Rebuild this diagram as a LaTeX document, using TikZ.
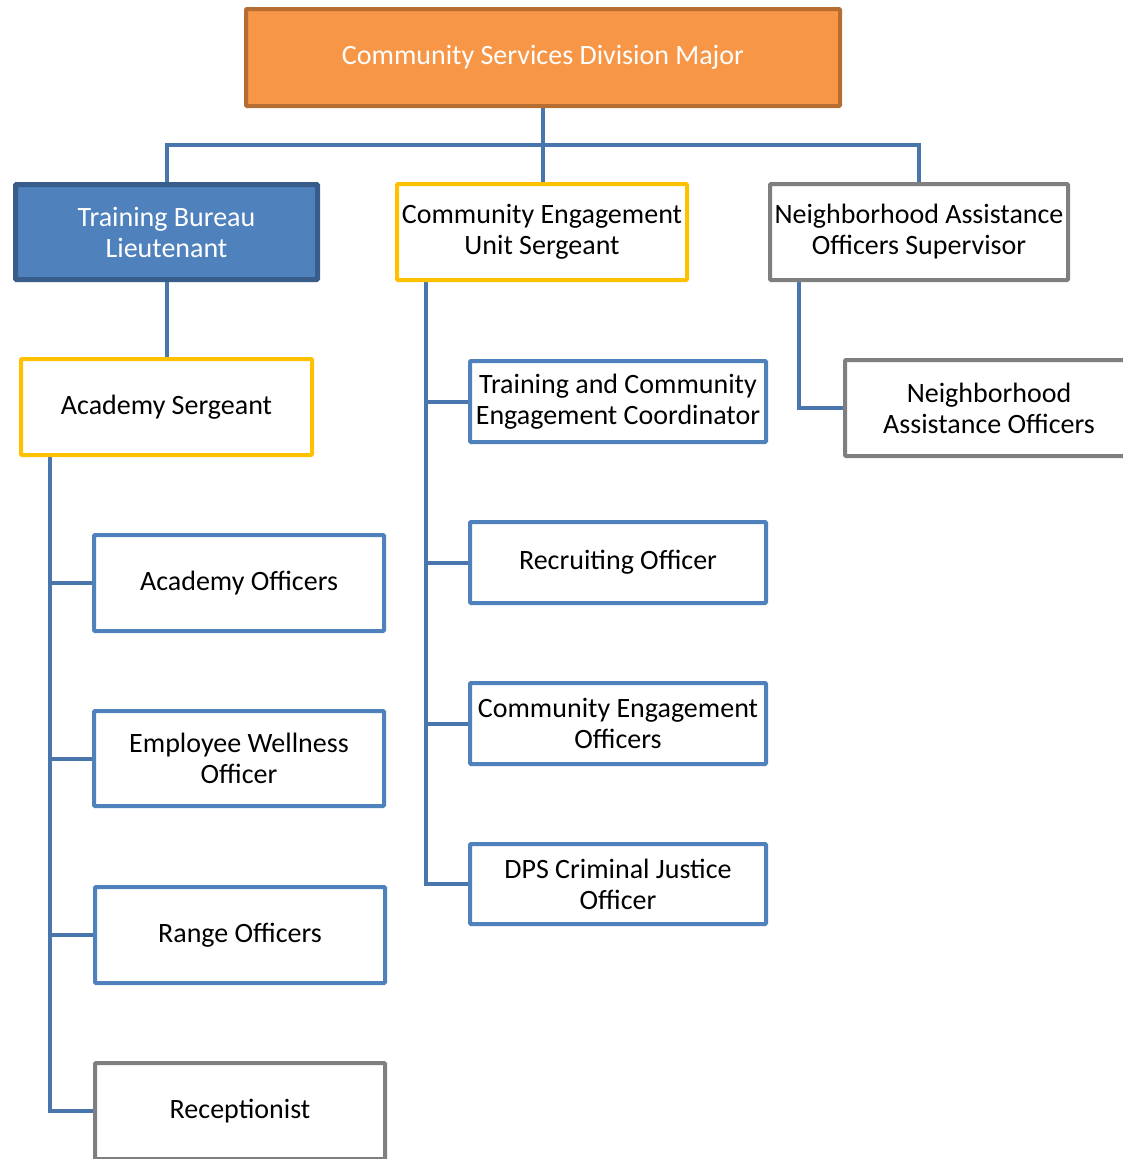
\documentclass[tikz,border=0pt]{standalone}
\usepackage{fontspec}
\setmainfont{Carlito}
\usetikzlibrary{backgrounds}
\definecolor{orangefill}{HTML}{F79646}
\definecolor{orangeline}{HTML}{B66D31}
\definecolor{bluefill}{HTML}{4F81BD}
\definecolor{blueline}{HTML}{385D8A}
\definecolor{boxblue}{HTML}{4F81BD}
\definecolor{gold}{HTML}{FFC000}
\definecolor{grayline}{HTML}{7F7F7F}
\definecolor{connblue}{HTML}{4A76AE}
\tikzset{
  box/.style={rectangle, align=center, inner sep=0pt, rounded corners=1pt, font=\fontsize{28}{31}\selectfont, fill=white},
  topbox/.style={box, draw=orangeline, fill=orangefill, text=white, line width=4pt, minimum width=594pt, minimum height=97pt},
  ltbox/.style={box, draw=blueline, fill=bluefill, text=white, line width=5pt, minimum width=302pt, minimum height=95pt},
  goldbox/.style={box, draw=gold, line width=4pt},
  graybox/.style={box, draw=grayline, line width=4pt},
  bluebox/.style={box, draw=boxblue, line width=4pt},
  conn/.style={draw=connblue, line width=4pt}
}
\begin{document}
\begin{tikzpicture}[x=1pt,y=-1pt]
\useasboundingbox (0,0) rectangle (1122,1159);
\node[topbox] (top) at (543,57.5) {Community Services Division Major};
\node[ltbox] (tbl) at (166.5,232) {Training Bureau\\Lieutenant};
\node[goldbox, minimum width=290pt, minimum height=96pt] (ceu) at (542,232) {Community Engagement\\Unit Sergeant};
\node[graybox, minimum width=298pt, minimum height=96pt] (naos) at (919,232) {Neighborhood Assistance\\Officers Supervisor};
\node[graybox, minimum width=288pt, minimum height=96pt] (nao) at (989,408) {Neighborhood\\Assistance Officers};
\node[goldbox, minimum width=291pt, minimum height=96pt] (as) at (166.5,407) {Academy Sergeant};
\node[bluebox, minimum width=290pt, minimum height=96pt] (ao) at (239,583) {Academy Officers};
\node[bluebox, minimum width=290pt, minimum height=95pt] (ewo) at (239,758.5) {Employee Wellness\\Officer};
\node[bluebox, minimum width=290pt, minimum height=96pt] (ro) at (240,935) {Range Officers};
\node[graybox, minimum width=290pt, minimum height=96pt] (rec) at (240,1111) {Receptionist};
\node[bluebox, minimum width=296pt, minimum height=81pt] (tcec) at (618,401.5) {Training and Community\\Engagement Coordinator};
\node[bluebox, minimum width=296pt, minimum height=81pt] (recr) at (618,562.5) {Recruiting Officer};
\node[bluebox, minimum width=296pt, minimum height=81pt] (ceo) at (618,723.5) {Community Engagement\\Officers};
\node[bluebox, minimum width=296pt, minimum height=80pt] (dps) at (618,884) {DPS Criminal Justice\\Officer};
\begin{pgfonlayer}{background}
\coordinate (bus) at (542.5,145);
\coordinate (asspine) at (50,457);
\coordinate (ceuspine) at (426,282);
\coordinate (naospine) at (799,282);
\draw[conn] (bus |- top.south) -- (bus);
\draw[conn] (tbl.north) |- (bus) -| (naos.north);
\draw[conn] (bus) -- (bus |- ceu.north);
\draw[conn] (tbl.south) -- (as.north);
\draw[conn] (asspine) |- (rec.west);
\draw[conn] (ao.west) -- (ao.west -| asspine);
\draw[conn] (ewo.west) -- (ewo.west -| asspine);
\draw[conn] (ro.west) -- (ro.west -| asspine);
\draw[conn] (ceuspine) |- (dps.west);
\draw[conn] (tcec.west) -- (tcec.west -| ceuspine);
\draw[conn] (recr.west) -- (recr.west -| ceuspine);
\draw[conn] (ceo.west) -- (ceo.west -| ceuspine);
\draw[conn] (naospine) |- (nao.west);
\end{pgfonlayer}
\end{tikzpicture}
\end{document}
